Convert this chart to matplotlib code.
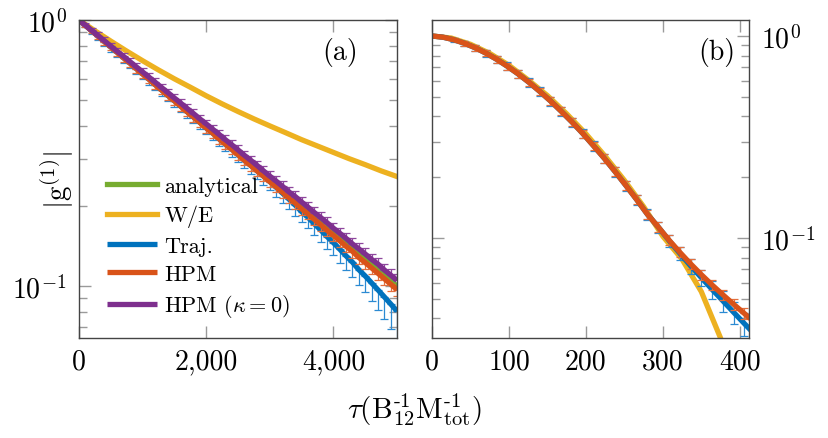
import numpy as np
import matplotlib
matplotlib.use("Agg")
import matplotlib.pyplot as plt
from matplotlib.ticker import LogLocator, NullFormatter

plt.rcParams['font.family'] = 'serif'
plt.rcParams['font.serif'] = ['cmr10']
plt.rcParams['mathtext.fontset'] = 'cm'
plt.rcParams['axes.unicode_minus'] = False
plt.rcParams['axes.formatter.use_mathtext'] = True

GREEN = '#77AC30'
YELLOW = '#EDB120'
BLUE = '#0072BD'
ORANGE = '#D95319'
PURPLE = '#7E2F8E'

# ---------------- panel (a) data ----------------
tau_a = np.arange(0, 5001, 100)

analytical_tau_a = [0, 500, 1000, 1500, 2000, 2500, 3000, 3500, 4000, 4500, 5000]
analytical_a = [1.0, 0.794, 0.631, 0.501, 0.398, 0.316, 0.251, 0.200, 0.158, 0.126, 0.100]

we_tau_a = np.arange(0, 5001, 250)
we_a = [1.000, 0.911, 0.833, 0.764, 0.703, 0.649, 0.601, 0.559, 0.519, 0.484, 0.453,
        0.425, 0.400, 0.377, 0.355, 0.336, 0.318, 0.301, 0.286, 0.271, 0.258]

traj_a = [1.000, 0.954, 0.911, 0.869, 0.830, 0.792, 0.756, 0.721, 0.689, 0.657,
          0.627, 0.599, 0.571, 0.545, 0.520, 0.497, 0.474, 0.452, 0.432, 0.412,
          0.393, 0.376, 0.358, 0.342, 0.327, 0.312, 0.297, 0.284, 0.271, 0.259,
          0.247, 0.235, 0.2233, 0.2123, 0.2014, 0.1904, 0.1814, 0.1714, 0.1625, 0.1535,
          0.1456, 0.1376, 0.1298, 0.1229, 0.1152, 0.1091, 0.1028, 0.0968, 0.0911, 0.0857,
          0.0805]
traj_relerr_a = [0, 0.015, 0.028, 0.034, 0.037, 0.039, 0.040, 0.041, 0.042, 0.043,
                 0.044, 0.045, 0.046, 0.047, 0.048, 0.049, 0.050, 0.051, 0.052, 0.053,
                 0.054, 0.056, 0.058, 0.060, 0.062, 0.064, 0.066, 0.068, 0.070, 0.072,
                 0.074, 0.077, 0.080, 0.083, 0.086, 0.089, 0.092, 0.095, 0.098, 0.101,
                 0.105, 0.110, 0.115, 0.120, 0.126, 0.133, 0.145, 0.160, 0.178, 0.198,
                 0.222]

hpm_a = [1.000, 0.954, 0.911, 0.869, 0.830, 0.792, 0.756, 0.721, 0.689, 0.657,
         0.627, 0.599, 0.571, 0.545, 0.520, 0.497, 0.474, 0.452, 0.432, 0.412,
         0.393, 0.376, 0.358, 0.342, 0.327, 0.312, 0.297, 0.284, 0.271, 0.259,
         0.247, 0.236, 0.225, 0.215, 0.205, 0.195, 0.187, 0.178, 0.170, 0.162,
         0.155, 0.148, 0.141, 0.135, 0.128, 0.1226, 0.117, 0.1117, 0.1066, 0.1017,
         0.0970]
hpm_relerr_a = [0, 0.012, 0.020, 0.025, 0.028, 0.030, 0.031, 0.032, 0.033, 0.034,
                0.035, 0.036, 0.036, 0.037, 0.037, 0.038, 0.038, 0.039, 0.039, 0.040,
                0.040, 0.041, 0.041, 0.042, 0.042, 0.043, 0.043, 0.044, 0.044, 0.045,
                0.045, 0.046, 0.046, 0.047, 0.047, 0.048, 0.048, 0.049, 0.049, 0.050,
                0.050, 0.051, 0.051, 0.052, 0.052, 0.053, 0.053, 0.054, 0.054, 0.055,
                0.055]

hpm0_a = [1.000, 0.956, 0.914, 0.874, 0.835, 0.798, 0.763, 0.730, 0.698, 0.667,
          0.638, 0.610, 0.583, 0.557, 0.533, 0.509, 0.487, 0.465, 0.445, 0.425,
          0.407, 0.389, 0.372, 0.355, 0.340, 0.325, 0.310, 0.297, 0.284, 0.271,
          0.259, 0.248, 0.237, 0.226, 0.217, 0.207, 0.198, 0.189, 0.181, 0.173,
          0.165, 0.158, 0.151, 0.144, 0.138, 0.132, 0.126, 0.121, 0.115, 0.110,
          0.105]
hpm0_relerr_a = [0, 0.015, 0.025, 0.030, 0.030, 0.031, 0.031, 0.032, 0.032, 0.033,
                 0.033, 0.034, 0.034, 0.035, 0.035, 0.036, 0.036, 0.037, 0.037, 0.038,
                 0.038, 0.039, 0.039, 0.040, 0.040, 0.041, 0.041, 0.042, 0.042, 0.043,
                 0.043, 0.044, 0.044, 0.045, 0.045, 0.046, 0.046, 0.047, 0.047, 0.048,
                 0.048, 0.049, 0.049, 0.050, 0.050, 0.051, 0.051, 0.052, 0.052, 0.053,
                 0.053]

# ---------------- panel (b) data ----------------
tau_b = np.arange(0, 421, 14)

we_tau_b = [0, 25, 50, 75, 100, 125, 150, 175, 200, 225, 250, 275, 300, 325, 350, 375, 390]
we_b = [1.000, 0.977, 0.910, 0.820, 0.716, 0.606, 0.507, 0.412, 0.328, 0.254,
        0.193, 0.143, 0.102, 0.0785, 0.0543, 0.0320, 0.0219]

traj_b = [1.000, 0.987, 0.959, 0.921, 0.875, 0.823, 0.767, 0.708, 0.649, 0.590,
          0.532, 0.477, 0.424, 0.375, 0.329, 0.286, 0.248, 0.213, 0.182, 0.155,
          0.131, 0.1135, 0.0973, 0.0841, 0.0729, 0.0637, 0.0557, 0.0489, 0.0429, 0.0377,
          0.0332]
traj_relerr_b = [0, 0.012, 0.022, 0.030, 0.036, 0.040, 0.043, 0.045, 0.047, 0.049,
                 0.050, 0.051, 0.052, 0.053, 0.054, 0.055, 0.056, 0.057, 0.058, 0.059,
                 0.060, 0.063, 0.068, 0.076, 0.085, 0.095, 0.105, 0.115, 0.125, 0.135,
                 0.145]

hpm_b = [1.000, 0.987, 0.959, 0.921, 0.875, 0.823, 0.767, 0.708, 0.649, 0.590,
         0.532, 0.477, 0.424, 0.375, 0.329, 0.286, 0.248, 0.213, 0.182, 0.155,
         0.131, 0.1135, 0.0977, 0.0851, 0.0746, 0.0659, 0.0586, 0.0524, 0.0470, 0.0423,
         0.0381]
hpm_relerr_b = [0, 0.010, 0.020, 0.028, 0.033, 0.036, 0.038, 0.040, 0.041, 0.042,
                0.043, 0.044, 0.045, 0.046, 0.047, 0.048, 0.049, 0.050, 0.051, 0.052,
                0.053, 0.054, 0.055, 0.056, 0.057, 0.058, 0.059, 0.060, 0.061, 0.062,
                0.063]

legend_labels = ['analytical', 'W/E', 'Traj.', 'HPM', r'HPM ($\kappa = 0$)']

LW = 3.8
TICK_FS = 20


def with_errors(ax, x, y, rel, color, ecolor, side='both'):
    # side: which half of the error bar is drawn ('both', 'lower', 'upper')
    y = np.asarray(y)
    err = y * np.asarray(rel)
    zero = np.zeros_like(err)
    lower = err if side in ('both', 'lower') else zero
    upper = err if side in ('both', 'upper') else zero
    ax.errorbar(x, y, yerr=[lower, upper], fmt='none', ecolor=ecolor,
                elinewidth=0.9, capsize=2.9, capthick=0.9)
    line, = ax.plot(x, y, color=color, lw=LW, solid_capstyle='butt')
    return line


def style_axis(ax):
    for s in ax.spines.values():
        s.set_color('#444444')
        s.set_linewidth(1.0)
    ax.set_yscale('log')
    ax.yaxis.set_minor_locator(LogLocator(base=10, subs=np.arange(2, 10)))
    ax.yaxis.set_minor_formatter(NullFormatter())
    ax.tick_params(which='both', direction='in', top=True, right=True, bottom=True, left=True,
                   color='#9a9a9a', width=1.0, labelsize=TICK_FS, labelcolor='black')
    ax.tick_params(which='major', length=8.3)
    ax.tick_params(which='minor', length=5.8)
    ax.tick_params(axis='x', pad=7)
    ax.tick_params(axis='y', pad=9)


fig = plt.figure(figsize=(8.29, 4.39), dpi=100)
ax_a = fig.add_axes([79 / 829, 100 / 439, 318 / 829, 318 / 439])
ax_b = fig.add_axes([432 / 829, 100 / 439, 317 / 829, 318 / 439])

# panel (a)
l_an, = ax_a.plot(analytical_tau_a, analytical_a, color=GREEN, lw=LW)
l_we, = ax_a.plot(we_tau_a, we_a, color=YELLOW, lw=LW)
l_tr = with_errors(ax_a, tau_a, traj_a, traj_relerr_a, BLUE, '#2b8ad2', 'lower')
l_hp = with_errors(ax_a, tau_a, hpm_a, hpm_relerr_a, ORANGE, '#e2703f', 'lower')
l_h0 = with_errors(ax_a, tau_a, hpm0_a, hpm0_relerr_a, PURPLE, '#8e479d', 'upper')

style_axis(ax_a)
ax_a.set_xlim(0, 5000)
ax_a.set_ylim(0.0638, 1.0)
ax_a.set_xticks([0, 2000, 4000])
ax_a.set_xticklabels(['0', '2,000', '4,000'])
ax_a.set_yticks([0.1, 1.0])
ax_a.set_yticklabels([r'$10^{-1}$', r'$10^{0}$'])
ax_a.text(0.821, 0.9025, '(a)', transform=ax_a.transAxes, ha='center', va='center', fontsize=20)
ax_a.set_ylabel(r'$|\mathrm{g}^{(1)}|$', fontsize=21)
ax_a.yaxis.set_label_coords(-0.069, 0.5)
ax_a.yaxis.label.set_verticalalignment('center')

ax_a.legend([l_an, l_we, l_tr, l_hp, l_h0], legend_labels, loc='upper left',
            bbox_to_anchor=(0.088, 0.5075), frameon=False, fontsize=16,
            borderpad=0, borderaxespad=0, handlelength=2.25, handletextpad=0.32,
            labelspacing=0.39)

# panel (b)
ax_b.plot(we_tau_b, we_b, color=YELLOW, lw=LW)
with_errors(ax_b, tau_b, traj_b, traj_relerr_b, BLUE, '#2b8ad2')
with_errors(ax_b, tau_b, hpm_b, hpm_relerr_b, ORANGE, '#e2703f')

style_axis(ax_b)
ax_b.set_xlim(0, 412)
ax_b.set_ylim(0.032, 1.2)
ax_b.set_xticks([0, 100, 200, 300, 400])
ax_b.set_xticklabels(['0', '100', '200', '300', '400'])
ax_b.set_yticks([0.1, 1.0])
ax_b.set_yticklabels([r'$10^{-1}$', r'$10^{0}$'])
ax_b.tick_params(axis='y', which='both', labelleft=False, labelright=True)
ax_b.text(0.899, 0.9025, '(b)', transform=ax_b.transAxes, ha='center', va='center', fontsize=20)

fig.text(0.5, 1 - 410 / 439,
         r'$\tau(\mathrm{B}_{12}^{\text{-}1}\mathrm{M}_{\mathrm{tot}}^{\text{-}1})$',
         ha='center', va='center', fontsize=21)

fig.savefig('out.png', dpi=100)
